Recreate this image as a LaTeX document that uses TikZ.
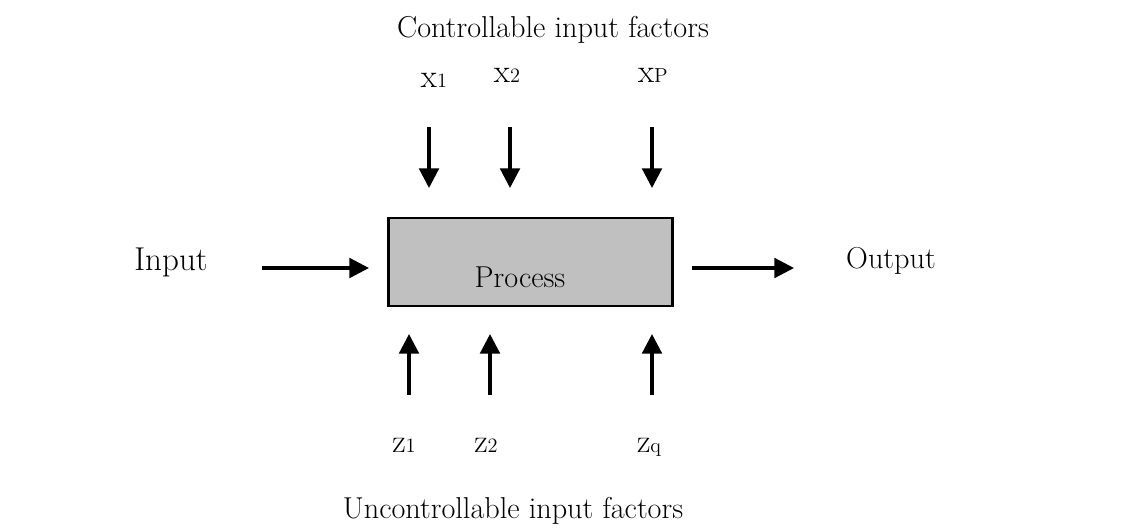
\documentclass[tikz,border=0pt]{standalone}
\usepackage{tikz}
\usetikzlibrary{arrows.meta}
\usetikzlibrary{positioning}
\newcommand{\vsub}[2]{#1{\fontsize{14.5}{16}\selectfont #2}}

\begin{document}
\begin{tikzpicture}[x=0.025cm,y=-0.025cm]
    \tikzstyle{flow}=[line width=2.3pt,-{Triangle[width=14pt,length=14pt]}]
    \tikzstyle{txt}=[inner sep=0pt,anchor=base,font=\fontsize{21.5}{24}\selectfont]
    \tikzstyle{var}=[inner sep=0pt,anchor=base,font=\fontsize{23.5}{26}\selectfont]
    \tikzstyle{pbox}=[draw=black,line width=2pt,fill={rgb,255:red,192;green,192;blue,192},minimum width=7.1cm,minimum height=2.2cm,inner sep=0pt]
    \useasboundingbox (0,0) rectangle (1145,528);

  \node[pbox] (process) at (530.5,262) {};
  \node[txt] (proclbl) at (520,287) {Process};

  \node[txt] (ctrl) at (553,37) {Controllable input factors};
  \node[txt] (unctrl) at (513,518) {Uncontrollable input factors};
  \node[txt,font=\fontsize{23.5}{26}\selectfont] (input) at (171,270) {Input};
  \node[txt] (output) at (891,268) {Output};

  \node[var] (x1) at (434,87) {\vsub{x}{1}};
  \node[var] (x2) at (507,82) {\vsub{x}{2}};
  \node[var] (xp) at (653,82) {\vsub{x}{P}};
  \node[var] (z1) at (404,452) {\vsub{z}{1}};
  \node[var] (z2) at (486,452) {\vsub{z}{2}};
  \node[var] (zq) at (649,452) {\vsub{z}{q}};

  \coordinate (x1top) at (429,127);
  \coordinate (x1tip) at (429,188);
  \coordinate (x2top) at (510,127);
  \coordinate (x2tip) at (510,188);
  \coordinate (xptop) at (652,127);
  \coordinate (xptip) at (652,188);
  \coordinate (z1bot) at (409,395);
  \coordinate (z1tip) at (409,334);
  \coordinate (z2bot) at (490,395);
  \coordinate (z2tip) at (490,334);
  \coordinate (zqbot) at (652,395);
  \coordinate (zqtip) at (652,334);
  \coordinate (intail) at (262,268);
  \coordinate (intip) at (369,268);
  \coordinate (outtail) at (692,268);
  \coordinate (outtip) at (794,268);

\draw[flow] (x1top) -- (x1tip);
\draw[flow] (x2top) -- (x2tip);
\draw[flow] (xptop) -- (xptip);
\draw[flow] (z1bot) -- (z1tip);
\draw[flow] (z2bot) -- (z2tip);
\draw[flow] (zqbot) -- (zqtip);
\draw[flow] (intail) -- (intip);
\draw[flow] (outtail) -- (outtip);
    \end{tikzpicture}
\end{document}
